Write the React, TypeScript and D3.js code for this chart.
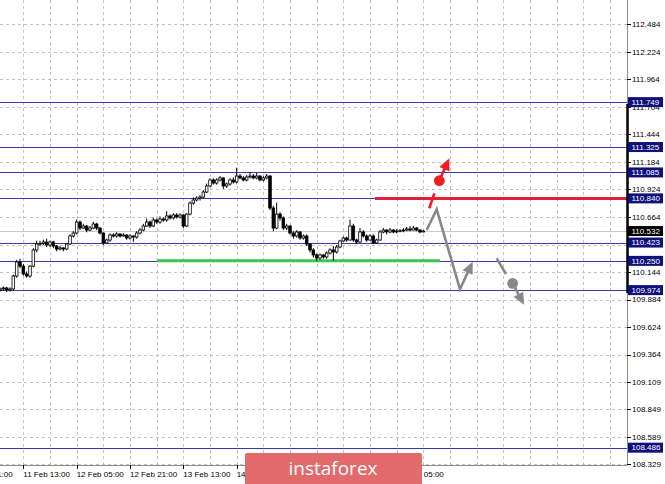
import { useEffect, useRef } from "react";
import * as d3 from "d3";

// H1 candles, bar 0 = 11 Feb 06:00
const candleOpen = [
  109.975, 109.985, 109.994, 109.975, 109.985, 110.107, 110.24, 110.2, 110.126, 110.107,
  110.2, 110.353, 110.41, 110.415, 110.428, 110.4, 110.428, 110.39, 110.362, 110.372,
  110.362, 110.41, 110.485, 110.513, 110.617, 110.56, 110.579, 110.541, 110.56, 110.598,
  110.56, 110.513, 110.419, 110.447, 110.494, 110.485, 110.504, 110.485, 110.494, 110.466,
  110.485, 110.475, 110.513, 110.541, 110.579, 110.617, 110.579, 110.636, 110.617, 110.645,
  110.636, 110.674, 110.655, 110.683, 110.664, 110.683, 110.579, 110.692, 110.796, 110.825,
  110.843, 110.853, 110.9, 110.957, 111.014, 110.985, 111.014, 111.033, 110.957, 110.976,
  111.014, 110.995, 111.051, 111.033, 111.014, 111.042, 111.051, 111.033, 111.051, 111.014,
  111.033, 111.051, 110.749, 110.56, 110.692, 110.655, 110.56, 110.579, 110.513, 110.485,
  110.523, 110.466, 110.485, 110.409, 110.353, 110.306, 110.277, 110.306, 110.287, 110.324,
  110.353, 110.334, 110.381, 110.438, 110.466, 110.447, 110.579, 110.447, 110.428, 110.523,
  110.485, 110.447, 110.485, 110.419, 110.447, 110.523, 110.541, 110.523, 110.541, 110.523,
  110.532, 110.535, 110.541, 110.551, 110.541, 110.56, 110.541, 110.523,
];
const candleHigh = [
  110.0, 110.01, 110.005, 110.0, 110.12, 110.26, 110.27, 110.22, 110.15, 110.21,
  110.37, 110.44, 110.44, 110.45, 110.46, 110.44, 110.44, 110.4, 110.39, 110.38,
  110.42, 110.5, 110.53, 110.64, 110.63, 110.6, 110.59, 110.58, 110.62, 110.61,
  110.57, 110.52, 110.46, 110.51, 110.51, 110.52, 110.51, 110.51, 110.5, 110.5,
  110.49, 110.53, 110.56, 110.6, 110.65, 110.63, 110.66, 110.65, 110.67, 110.66,
  110.72, 110.69, 110.7, 110.7, 110.7, 110.69, 110.7, 110.81, 110.85, 110.86,
  110.87, 110.92, 110.98, 111.03, 111.03, 111.03, 111.05, 111.04, 110.99, 111.03,
  111.04, 111.13, 111.07, 111.05, 111.06, 111.09, 111.07, 111.08, 111.06, 111.05,
  111.07, 111.06, 110.77, 110.8, 110.71, 110.67, 110.6, 110.59, 110.53, 110.54,
  110.53, 110.5, 110.5, 110.42, 110.37, 110.32, 110.32, 110.31, 110.34, 110.37,
  110.39, 110.4, 110.45, 110.48, 110.48, 110.64, 110.6, 110.46, 110.56, 110.54,
  110.5, 110.5, 110.5, 110.46, 110.54, 110.56, 110.55, 110.56, 110.55, 110.55,
  110.55, 110.56, 110.57, 110.58, 110.58, 110.57, 110.55, 110.54,
];
const candleLow = [
  109.96, 109.97, 109.955, 109.96, 109.97, 110.09, 110.18, 110.11, 110.09, 110.09,
  110.19, 110.33, 110.39, 110.4, 110.38, 110.38, 110.37, 110.34, 110.35, 110.34,
  110.35, 110.4, 110.47, 110.5, 110.54, 110.55, 110.52, 110.53, 110.55, 110.54,
  110.5, 110.4, 110.41, 110.43, 110.47, 110.47, 110.47, 110.48, 110.45, 110.45,
  110.43, 110.46, 110.5, 110.53, 110.57, 110.56, 110.57, 110.6, 110.6, 110.62,
  110.62, 110.64, 110.64, 110.65, 110.65, 110.56, 110.57, 110.68, 110.78, 110.81,
  110.82, 110.84, 110.89, 110.95, 110.97, 110.97, 111.0, 110.93, 110.94, 110.96,
  110.98, 110.98, 111.02, 111.0, 111.0, 111.03, 111.02, 111.02, 111.0, 111.0,
  111.02, 110.73, 110.53, 110.55, 110.63, 110.54, 110.54, 110.5, 110.46, 110.47,
  110.45, 110.45, 110.39, 110.33, 110.28, 110.25, 110.26, 110.27, 110.27, 110.31,
  110.25, 110.32, 110.37, 110.43, 110.43, 110.44, 110.43, 110.41, 110.42, 110.47,
  110.43, 110.44, 110.41, 110.41, 110.44, 110.51, 110.5, 110.51, 110.51, 110.51,
  110.52, 110.52, 110.53, 110.53, 110.54, 110.53, 110.51, 110.52,
];
const candleClose = [
  109.985, 109.994, 109.975, 109.985, 110.107, 110.24, 110.2, 110.126, 110.107, 110.2,
  110.353, 110.41, 110.415, 110.428, 110.4, 110.428, 110.39, 110.362, 110.372, 110.362,
  110.41, 110.485, 110.513, 110.617, 110.56, 110.579, 110.541, 110.56, 110.598, 110.56,
  110.513, 110.419, 110.447, 110.494, 110.485, 110.504, 110.485, 110.494, 110.466, 110.485,
  110.475, 110.513, 110.541, 110.579, 110.617, 110.579, 110.636, 110.617, 110.645, 110.636,
  110.674, 110.655, 110.683, 110.664, 110.683, 110.579, 110.692, 110.796, 110.825, 110.843,
  110.853, 110.9, 110.957, 111.014, 110.985, 111.014, 111.033, 110.957, 110.976, 111.014,
  110.995, 111.051, 111.033, 111.014, 111.042, 111.051, 111.033, 111.051, 111.014, 111.033,
  111.051, 110.749, 110.56, 110.692, 110.655, 110.56, 110.579, 110.513, 110.485, 110.523,
  110.466, 110.485, 110.409, 110.353, 110.306, 110.277, 110.306, 110.287, 110.324, 110.353,
  110.334, 110.381, 110.438, 110.466, 110.447, 110.579, 110.447, 110.428, 110.523, 110.485,
  110.447, 110.485, 110.419, 110.447, 110.523, 110.541, 110.523, 110.541, 110.523, 110.532,
  110.535, 110.541, 110.551, 110.541, 110.56, 110.541, 110.523, 110.532,
];

const priceTicks = [
  112.484, 112.224, 111.964, 111.704, 111.444, 111.184, 110.924, 110.664, 110.404,
  110.144, 109.884, 109.624, 109.364, 109.109, 108.849, 108.589, 108.329,
];
// labels hidden under the watermark are not listed
const timeTickBars = [-9, 7, 23, 39, 55, 71, 119];
const timeTickLabels = [
  "8 Feb 21:00", "11 Feb 13:00", "12 Feb 05:00", "12 Feb 21:00", "13 Feb 13:00",
  "14 Feb 05:00", "18 Feb 05:00",
];

// horizontal levels (blue)
const levels = [111.749, 111.325, 111.085, 110.84, 110.423, 110.25, 109.974, 108.486];
const lastPrice = 110.532;
const resistance = { from: 112.5, price: 110.84 };
const support = { from: 47, to: 132, price: 110.25 };

// forecast paths: [bar, price]
const grayPath: [number, number][] = [[128, 110.541], [131, 110.737], [138, 109.982], [141.8, 110.242]];
const grayDash: [number, number][] = [[149, 110.274], [151.8, 110.126]];
const grayDot: [number, number] = [153.8, 110.038];
const grayTip: [number, number] = [157.2, 109.835];
const redDash: [number, number][] = [[128.8, 110.747], [130.3, 110.888]];
const redDot: [number, number] = [131.8, 111.007];
const redTip: [number, number] = [134.8, 111.219];

export default function App() {
  const svgRef = useRef<SVGSVGElement>(null);

  useEffect(() => {
    const svg = d3.select(svgRef.current);
    svg.selectAll("*").remove();

    const plotRight = 627;
    const plotBottom = 465;
    const font = "'Liberation Sans', Arial, sans-serif";

    const x = d3.scaleLinear().domain([0, 188.1]).range([0, plotRight]);
    const y = d3.scaleLinear().domain([108.329, 112.484]).range([464.3, 24.3]);
    const crisp = (v: number) => Math.round(v) + 0.5;

    svg.append("rect").attr("width", 665).attr("height", 484).attr("fill", "#fff");

    // grid
    const grid = svg.append("g").attr("stroke", "#c4c4c4").attr("stroke-dasharray", "3,3").attr("shape-rendering", "crispEdges");
    grid.selectAll("line.h")
      .data(priceTicks)
      .enter()
      .append("line")
      .attr("x1", 0)
      .attr("x2", plotRight)
      .attr("y1", (d) => crisp(y(d)))
      .attr("y2", (d) => crisp(y(d)));
    grid.selectAll("line.v")
      .data(d3.range(7, 188, 8))
      .enter()
      .append("line")
      .attr("x1", (d) => crisp(x(d)))
      .attr("x2", (d) => crisp(x(d)))
      .attr("y1", 0)
      .attr("y2", plotBottom);

    // last price line
    svg.append("line")
      .attr("x1", 0).attr("x2", plotRight)
      .attr("y1", crisp(y(lastPrice))).attr("y2", crisp(y(lastPrice)))
      .attr("stroke", "#c8c8c8").attr("shape-rendering", "crispEdges");

    // blue levels
    svg.append("g")
      .selectAll("line")
      .data(levels)
      .enter()
      .append("line")
      .attr("x1", 0)
      .attr("x2", plotRight)
      .attr("y1", (d) => crisp(y(d)))
      .attr("y2", (d) => crisp(y(d)))
      .attr("stroke", "#3a3aa6")
      .attr("stroke-width", 1.2);

    // support / resistance
    svg.append("line")
      .attr("x1", x(support.from)).attr("x2", x(support.to))
      .attr("y1", y(support.price)).attr("y2", y(support.price))
      .attr("stroke", "#3cc44e").attr("stroke-width", 3);
    svg.append("line")
      .attr("x1", x(resistance.from)).attr("x2", plotRight)
      .attr("y1", y(resistance.price)).attr("y2", y(resistance.price))
      .attr("stroke", "#e0203c").attr("stroke-width", 3);

    // candles
    const candles = candleClose.map((c, i) => ({
      i, o: candleOpen[i], h: candleHigh[i], l: candleLow[i], c,
    }));
    const cg = svg.append("g");
    cg.selectAll("line")
      .data(candles)
      .enter()
      .append("line")
      .attr("x1", (d) => x(d.i))
      .attr("x2", (d) => x(d.i))
      .attr("y1", (d) => y(d.h))
      .attr("y2", (d) => y(d.l))
      .attr("stroke", "#000")
      .attr("stroke-width", 1);
    cg.selectAll("rect")
      .data(candles)
      .enter()
      .append("rect")
      .attr("x", (d) => x(d.i) - 1.3)
      .attr("width", 2.6)
      .attr("y", (d) => y(Math.max(d.o, d.c)))
      .attr("height", (d) => Math.max(0.8, Math.abs(y(d.o) - y(d.c))))
      .attr("fill", (d) => (d.c >= d.o ? "#fff" : "#000"))
      .attr("stroke", "#000")
      .attr("stroke-width", 0.8);

    // forecast arrows
    const pt = (p: [number, number]): [number, number] => [x(p[0]), y(p[1])];
    const line = d3.line();
    const arrowHead = (from: [number, number], to: [number, number], color: string) => {
      const a = Math.atan2(to[1] - from[1], to[0] - from[0]);
      const len = 12, half = 5.5;
      const bx = to[0] - len * Math.cos(a), by = to[1] - len * Math.sin(a);
      svg.append("path")
        .attr("d", line([
          to,
          [bx + half * Math.sin(a), by - half * Math.cos(a)],
          [bx - half * Math.sin(a), by + half * Math.cos(a)],
        ]) + "Z")
        .attr("fill", color);
      return [bx + 2 * Math.cos(a), by + 2 * Math.sin(a)] as [number, number];
    };
    const drawArrow = (pts: [number, number][], color: string) => {
      const px = pts.map(pt);
      const n = px.length;
      const base = arrowHead(px[n - 2], px[n - 1], color);
      svg.append("path")
        .attr("d", line([...px.slice(0, n - 1), base]))
        .attr("fill", "none")
        .attr("stroke", color)
        .attr("stroke-width", 2.6);
    };
    const drawSeg = (pts: [number, number][], color: string) => {
      svg.append("path")
        .attr("d", line(pts.map(pt)))
        .attr("fill", "none")
        .attr("stroke", color)
        .attr("stroke-width", 2.6);
    };

    const gray = "#888888";
    const red = "#f01c24";
    drawArrow(grayPath, gray);
    drawSeg(grayDash, gray);
    svg.append("circle").attr("cx", x(grayDot[0])).attr("cy", y(grayDot[1])).attr("r", 5.4).attr("fill", gray);
    drawArrow([grayDot, grayTip], gray);
    drawSeg(redDash, red);
    svg.append("circle").attr("cx", x(redDot[0])).attr("cy", y(redDot[1])).attr("r", 5.4).attr("fill", red);
    drawArrow([redDot, redTip], red);

    // axes frame
    svg.append("line")
      .attr("x1", plotRight + 0.5).attr("x2", plotRight + 0.5)
      .attr("y1", 0).attr("y2", plotBottom)
      .attr("stroke", "#8c8c8c");
    svg.append("line")
      .attr("x1", 0).attr("x2", plotRight)
      .attr("y1", plotBottom + 0.5).attr("y2", plotBottom + 0.5)
      .attr("stroke", "#8c8c8c");
    svg.append("line")
      .attr("x1", plotRight + 0.5).attr("x2", plotRight + 0.5)
      .attr("y1", 104).attr("y2", 293)
      .attr("stroke", "#000").attr("stroke-width", 2.5);

    // price axis (tick texts fully covered by a level tag are left out)
    const tagValues = [...levels, lastPrice];
    const ya = svg.append("g").attr("font-family", font).attr("font-size", 8).attr("fill", "#000");
    priceTicks.forEach((p) => {
      ya.append("line")
        .attr("x1", plotRight).attr("x2", plotRight + 4)
        .attr("y1", crisp(y(p))).attr("y2", crisp(y(p)))
        .attr("stroke", "#000").attr("shape-rendering", "crispEdges");
      const covered = tagValues.some((v) => Math.abs(y(v) - y(p)) < 4);
      if (covered) return;
      ya.append("text")
        .attr("x", 632)
        .attr("y", y(p))
        .attr("dy", "0.35em")
        .text(p.toFixed(3));
    });

    // level labels
    const tags = [...levels.map((v) => ({ v, fill: "#10107c" })), { v: lastPrice, fill: "#000" }];
    tags.forEach((t) => {
      ya.append("rect")
        .attr("x", 628)
        .attr("y", y(t.v) - 5)
        .attr("width", 35)
        .attr("height", 10)
        .attr("fill", t.fill);
      ya.append("text")
        .attr("x", 631.5)
        .attr("y", y(t.v))
        .attr("dy", "0.35em")
        .attr("fill", "#fff")
        .text(t.v.toFixed(3));
    });

    // time axis
    const xa = svg.append("g").attr("font-family", font).attr("font-size", 8).attr("fill", "#000");
    timeTickBars.forEach((b, k) => {
      xa.append("line")
        .attr("x1", crisp(x(b))).attr("x2", crisp(x(b)))
        .attr("y1", plotBottom).attr("y2", plotBottom + 4)
        .attr("stroke", "#000").attr("shape-rendering", "crispEdges");
      xa.append("text")
        .attr("x", x(b))
        .attr("y", 477)
        .text(timeTickLabels[k]);
    });

    // watermark
    svg.append("rect")
      .attr("x", 245).attr("y", 453)
      .attr("width", 177).attr("height", 40)
      .attr("rx", 2)
      .attr("fill", "#e36a6a");
    svg.append("text")
      .attr("x", 333)
      .attr("y", 475)
      .attr("text-anchor", "middle")
      .attr("font-family", "'Open Sans', sans-serif")
      .attr("font-size", 19)
      .attr("fill", "#fff")
      .text("instaforex");
  }, []);

  return (
    <svg
      ref={svgRef}
      width={665}
      height={484}
      style={{ position: "absolute", left: 0, top: 0, display: "block" }}
    ></svg>
  );
}
